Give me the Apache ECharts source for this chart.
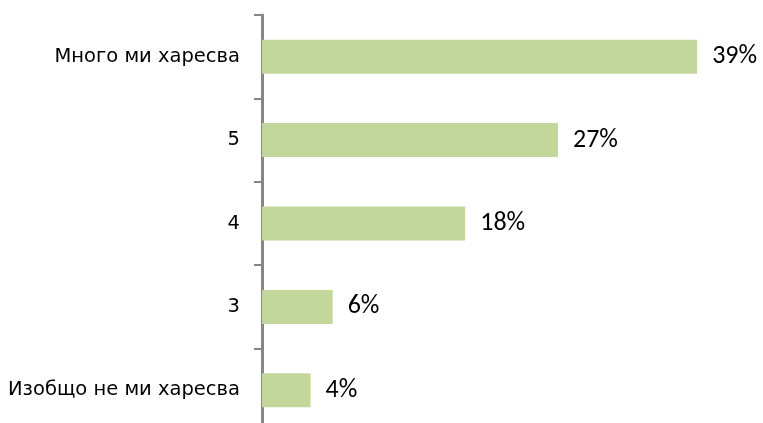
<!DOCTYPE html>
<html><head><meta charset="utf-8">
<script src="https://cdn.jsdelivr.net/npm/echarts@6/dist/echarts.min.js"></script>
<style>html,body{margin:0;padding:0;background:#fff;overflow:hidden}#c{width:763px;height:445px}</style>
</head><body><div id="c"></div>
<script>
var categories = ["Много ми харесва", "5", "4", "3", "Изобщо не ми харесва"];
var values = [39.4, 26.8, 18.4, 6.4, 4.4];
var chart = echarts.init(document.getElementById('c'));
chart.setOption({
  animation: false,
  grid: {left: 262, top: 15, width: 497, height: 417, containLabel: false},
  xAxis: {type: 'value', min: 0, max: 45, show: false},
  yAxis: {
    type: 'category', data: categories, inverse: true,
    axisLine: {lineStyle: {color: '#868686', width: 3}},
    axisTick: {show: true, length: 8, lineStyle: {color: '#868686', width: 2}},
    axisLabel: {color: '#000', fontFamily: 'DejaVu Sans', fontSize: 19.5, margin: 22}
  },
  series: [{
    type: 'bar', data: values, barWidth: 34,
    itemStyle: {color: '#c4d79b'},
    label: {show: true, position: 'right', distance: 15, color: '#000',
      fontFamily: 'Carlito, Liberation Sans, Arial', fontSize: 26,
      formatter: function(p){ return Math.round(p.value) + '%'; }}
  }]
});
</script></body></html>
